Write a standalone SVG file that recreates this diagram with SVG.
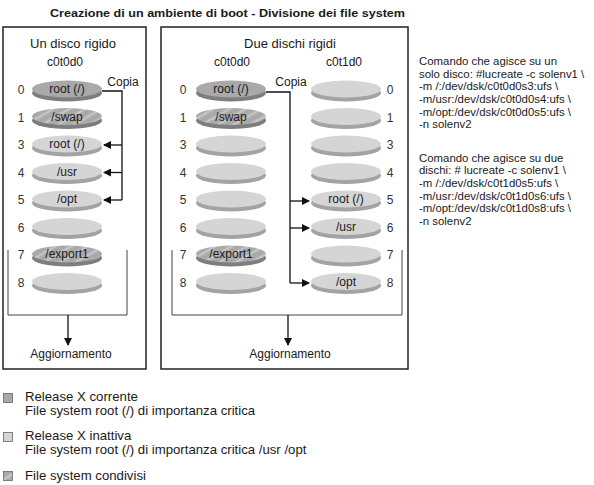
<svg xmlns="http://www.w3.org/2000/svg" width="594" height="485" viewBox="0 0 594 485">
<style>
text{font-family:"Liberation Sans",Arial,sans-serif;fill:#1a1a1a}
.title{font-size:11.8px;font-weight:bold}
.head{font-size:13px;text-anchor:middle}
.dev{font-size:12px;text-anchor:middle}
.lbl{font-size:12px;text-anchor:middle}
.num{font-size:12px;text-anchor:middle;fill:#333}
.cmd{font-size:11.4px}
.leg{font-size:13.2px}
.panel{fill:#fff;stroke:#222;stroke-width:1.5}
.fd{fill:#a9a9a9}.sd{fill:#7e7e7e}
.fl{fill:#d5d5d5}.sl{fill:#a3a3a3}
.fh{fill:url(#hatch)}
.ln{fill:none;stroke:#111;stroke-width:1.3}
.br{fill:none;stroke:#444;stroke-width:1}
</style>
<defs>
<pattern id="hatch" patternUnits="userSpaceOnUse" width="8" height="8" patternTransform="rotate(60)">
<rect width="8" height="8" fill="#adadad"/>
<line x1="1" y1="0" x2="1" y2="8" stroke="#d4d4d4" stroke-width="1.3"/>
<line x1="5" y1="0" x2="5" y2="8" stroke="#9a9a9a" stroke-width="0.6"/>
</pattern>
<marker id="ah" markerUnits="userSpaceOnUse" markerWidth="8" markerHeight="8" refX="7" refY="4" orient="auto">
<path d="M0,0 L8,4 L0,8 z" fill="#111"/>
</marker>
</defs>
<rect width="594" height="485" fill="#fff"/>
<text class="title" x="50" y="17" textLength="355" lengthAdjust="spacingAndGlyphs">Creazione di un ambiente di boot - Divisione dei file system</text>

<g id="panel-left">
<rect class="panel" x="3" y="27" width="143" height="342"/>
<text class="head" x="73" y="48">Un disco rigido</text>
<text class="dev" x="65" y="66">c0t0d0</text>
</g>
<g id="panel-mid">
<rect class="panel" x="161" y="27" width="247" height="342"/>
<text class="head" x="290" y="48">Due dischi rigidi</text>
<text class="dev" x="232" y="66">c0t0d0</text>
<text class="dev" x="344" y="66">c0t1d0</text>
</g>

<g id="left-labels">
<text class="num" x="21" y="94">0</text>
<text class="num" x="21" y="121.5">1</text>
<text class="num" x="21" y="149">3</text>
<text class="num" x="21" y="176.5">4</text>
<text class="num" x="21" y="204">5</text>
<text class="num" x="21" y="231.5">6</text>
<text class="num" x="21" y="259">7</text>
<text class="num" x="21" y="286.5">8</text>
</g>
<g id="L0"><ellipse class="sd" cx="67" cy="93" rx="35" ry="8.5"/><ellipse class="fd" cx="67" cy="89" rx="35" ry="8.5"/><text class="lbl" x="67" y="93">root (/)</text></g>
<g id="L1"><ellipse class="sd" cx="67" cy="120.5" rx="35" ry="8.5"/><ellipse class="fh" cx="67" cy="116.5" rx="35" ry="8.5"/><text class="lbl" x="67" y="120.5">/swap</text></g>
<g id="L3"><ellipse class="sl" cx="67" cy="148" rx="35" ry="8.5"/><ellipse class="fl" cx="67" cy="144" rx="35" ry="8.5"/><text class="lbl" x="67" y="148">root (/)</text></g>
<g id="L4"><ellipse class="sl" cx="67" cy="175.5" rx="35" ry="8.5"/><ellipse class="fl" cx="67" cy="171.5" rx="35" ry="8.5"/><text class="lbl" x="67" y="175.5">/usr</text></g>
<g id="L5"><ellipse class="sl" cx="67" cy="203" rx="35" ry="8.5"/><ellipse class="fl" cx="67" cy="199" rx="35" ry="8.5"/><text class="lbl" x="67" y="203">/opt</text></g>
<g id="L6"><ellipse class="sl" cx="67" cy="230.5" rx="35" ry="8.5"/><ellipse class="fl" cx="67" cy="226.5" rx="35" ry="8.5"/></g>
<g id="L7"><ellipse class="sd" cx="67" cy="258" rx="35" ry="8.5"/><ellipse class="fh" cx="67" cy="254" rx="35" ry="8.5"/><text class="lbl" x="67" y="258">/export1</text></g>
<g id="L8"><ellipse class="sl" cx="67" cy="285.5" rx="35" ry="8.5"/><ellipse class="fl" cx="67" cy="281.5" rx="35" ry="8.5"/></g>

<g id="mid-labels">
<text class="num" x="183" y="94">0</text><text class="num" x="390" y="94">0</text>
<text class="num" x="183" y="121.5">1</text><text class="num" x="390" y="121.5">1</text>
<text class="num" x="183" y="149">3</text><text class="num" x="390" y="149">3</text>
<text class="num" x="183" y="176.5">4</text><text class="num" x="390" y="176.5">4</text>
<text class="num" x="183" y="204">5</text><text class="num" x="390" y="204">5</text>
<text class="num" x="183" y="231.5">6</text><text class="num" x="390" y="231.5">6</text>
<text class="num" x="183" y="259">7</text><text class="num" x="390" y="259">7</text>
<text class="num" x="183" y="286.5">8</text><text class="num" x="390" y="286.5">8</text>
</g>
<g id="A0"><ellipse class="sd" cx="231" cy="93" rx="35" ry="8.5"/><ellipse class="fd" cx="231" cy="89" rx="35" ry="8.5"/><text class="lbl" x="231" y="93">root (/)</text></g>
<g id="A1"><ellipse class="sd" cx="231" cy="120.5" rx="35" ry="8.5"/><ellipse class="fh" cx="231" cy="116.5" rx="35" ry="8.5"/><text class="lbl" x="231" y="120.5">/swap</text></g>
<g id="A3"><ellipse class="sl" cx="231" cy="148" rx="35" ry="8.5"/><ellipse class="fl" cx="231" cy="144" rx="35" ry="8.5"/></g>
<g id="A4"><ellipse class="sl" cx="231" cy="175.5" rx="35" ry="8.5"/><ellipse class="fl" cx="231" cy="171.5" rx="35" ry="8.5"/></g>
<g id="A5"><ellipse class="sl" cx="231" cy="203" rx="35" ry="8.5"/><ellipse class="fl" cx="231" cy="199" rx="35" ry="8.5"/></g>
<g id="A6"><ellipse class="sl" cx="231" cy="230.5" rx="35" ry="8.5"/><ellipse class="fl" cx="231" cy="226.5" rx="35" ry="8.5"/></g>
<g id="A7"><ellipse class="sd" cx="231" cy="258" rx="35" ry="8.5"/><ellipse class="fh" cx="231" cy="254" rx="35" ry="8.5"/><text class="lbl" x="231" y="258">/export1</text></g>
<g id="A8"><ellipse class="sl" cx="231" cy="285.5" rx="35" ry="8.5"/><ellipse class="fl" cx="231" cy="281.5" rx="35" ry="8.5"/></g>

<g id="B0"><ellipse class="sl" cx="346" cy="93" rx="35" ry="8.5"/><ellipse class="fl" cx="346" cy="89" rx="35" ry="8.5"/></g>
<g id="B1"><ellipse class="sl" cx="346" cy="120.5" rx="35" ry="8.5"/><ellipse class="fl" cx="346" cy="116.5" rx="35" ry="8.5"/></g>
<g id="B3"><ellipse class="sl" cx="346" cy="148" rx="35" ry="8.5"/><ellipse class="fl" cx="346" cy="144" rx="35" ry="8.5"/></g>
<g id="B4"><ellipse class="sl" cx="346" cy="175.5" rx="35" ry="8.5"/><ellipse class="fl" cx="346" cy="171.5" rx="35" ry="8.5"/></g>
<g id="B5"><ellipse class="sl" cx="346" cy="203" rx="35" ry="8.5"/><ellipse class="fl" cx="346" cy="199" rx="35" ry="8.5"/><text class="lbl" x="346" y="203">root (/)</text></g>
<g id="B6"><ellipse class="sl" cx="346" cy="230.5" rx="35" ry="8.5"/><ellipse class="fl" cx="346" cy="226.5" rx="35" ry="8.5"/><text class="lbl" x="346" y="230.5">/usr</text></g>
<g id="B7"><ellipse class="sl" cx="346" cy="258" rx="35" ry="8.5"/><ellipse class="fl" cx="346" cy="254" rx="35" ry="8.5"/></g>
<g id="B8"><ellipse class="sl" cx="346" cy="285.5" rx="35" ry="8.5"/><ellipse class="fl" cx="346" cy="281.5" rx="35" ry="8.5"/><text class="lbl" x="346" y="285.5">/opt</text></g>

<g id="connectors">
<text class="lbl" x="123" y="86">Copia</text>
<polyline class="ln" points="102,91 122,91 122,200"/>
<line class="ln" x1="122" y1="145" x2="104" y2="145" marker-end="url(#ah)"/>
<line class="ln" x1="122" y1="172.5" x2="104" y2="172.5" marker-end="url(#ah)"/>
<line class="ln" x1="122" y1="200" x2="104" y2="200" marker-end="url(#ah)"/>
<path class="br" d="M8,250 V315 H127 V250"/>
<line class="ln" x1="68" y1="315" x2="68" y2="345" stroke-width="1" marker-end="url(#ah)"/>
<text class="lbl" x="71" y="358">Aggiornamento</text>

<text class="lbl" x="291" y="86">Copia</text>
<polyline class="ln" points="266,92 290,92 290,283"/>
<line class="ln" x1="290" y1="201" x2="309" y2="201" marker-end="url(#ah)"/>
<line class="ln" x1="290" y1="228" x2="309" y2="228" marker-end="url(#ah)"/>
<line class="ln" x1="290" y1="283" x2="309" y2="283" marker-end="url(#ah)"/>
<path class="br" d="M172,250 V315 H402 V250"/>
<line class="ln" x1="288" y1="315" x2="288" y2="345" stroke-width="1" marker-end="url(#ah)"/>
<text class="lbl" x="290" y="358">Aggiornamento</text>
</g>

<g id="commands">
<text class="cmd" x="419" y="65">Comando che agisce su un</text>
<text class="cmd" x="419" y="77.7">solo disco: #lucreate -c solenv1 \</text>
<text class="cmd" x="419" y="90.3">-m /:/dev/dsk/c0t0d0s3:ufs \</text>
<text class="cmd" x="419" y="103">-m/usr:/dev/dsk/c0t0d0s4:ufs \</text>
<text class="cmd" x="419" y="115.7">-m/opt:/dev/dsk/c0t0d0s5:ufs \</text>
<text class="cmd" x="419" y="128.3">-n solenv2</text>
<text class="cmd" x="419" y="161.7">Comando che agisce su due</text>
<text class="cmd" x="419" y="174.3">dischi: # lucreate -c solenv1 \</text>
<text class="cmd" x="419" y="187">-m /:/dev/dsk/c0t1d0s5:ufs \</text>
<text class="cmd" x="419" y="199.7">-m/usr:/dev/dsk/c0t1d0s6:ufs \</text>
<text class="cmd" x="419" y="212.3">-m/opt:/dev/dsk/c0t1d0s8:ufs \</text>
<text class="cmd" x="419" y="225">-n solenv2</text>
</g>

<g id="legend">
<rect x="3.5" y="393.5" width="9" height="9" fill="#a9a9a9" stroke="#666" stroke-width="0.8"/>
<text class="leg" x="25" y="401">Release X corrente</text>
<text class="leg" x="25" y="415">File system root (/) di importanza critica</text>
<rect x="3.5" y="432.5" width="9" height="9" fill="#d5d5d5" stroke="#666" stroke-width="0.8"/>
<text class="leg" x="25" y="440">Release X inattiva</text>
<text class="leg" x="25" y="454">File system root (/) di importanza critica /usr /opt</text>
<rect x="3.5" y="471.5" width="9" height="9" fill="url(#hatch)" stroke="#666" stroke-width="0.8"/>
<text class="leg" x="25" y="480">File system condivisi</text>
</g>
</svg>
